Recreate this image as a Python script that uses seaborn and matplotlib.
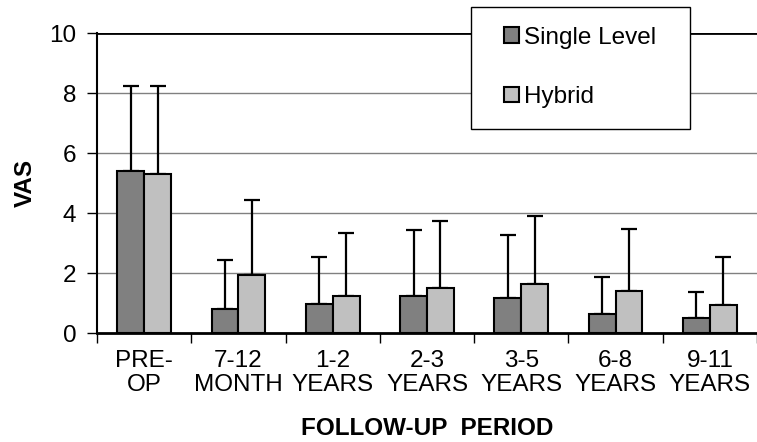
import numpy as np
import pandas as pd
import matplotlib
matplotlib.use('Agg')
import matplotlib.pyplot as plt
from matplotlib.patches import Rectangle
import seaborn as sns

periods = ['PRE-\nOP', '7-12\nMONTH', '1-2\nYEARS', '2-3\nYEARS',
           '3-5\nYEARS', '6-8\nYEARS', '9-11\nYEARS']
single_mean = [5.40, 0.79, 0.96, 1.23, 1.16, 0.64, 0.51]
single_top = [8.25, 2.43, 2.52, 3.43, 3.26, 1.88, 1.38]
hybrid_mean = [5.29, 1.92, 1.24, 1.49, 1.62, 1.41, 0.93]
hybrid_top = [8.23, 4.42, 3.33, 3.73, 3.90, 3.48, 2.52]
groups = ['Single Level', 'Hybrid']

df = pd.DataFrame({
    'period': periods * 2,
    'vas': single_mean + hybrid_mean,
    'group': [groups[0]] * len(periods) + [groups[1]] * len(periods),
})

sns.set_style('white')
plt.rcParams['font.family'] = ['Liberation Sans', 'DejaVu Sans']
plt.rcParams.update({'text.color': 'black', 'axes.labelcolor': 'black',
                     'xtick.color': 'black', 'ytick.color': 'black'})

W, H = 757, 442
fig = plt.figure(figsize=(W / 100, H / 100), dpi=100)
ax = fig.add_axes([97 / W, 1 - 333 / H, 1 - 97 / W, 300 / H])

for v in [2, 4, 6, 8]:
    ax.axhline(v, color='#808080', lw=1, zorder=0)
ax.axhline(10, color='black', lw=2, zorder=0)

sns.barplot(data=df, x='period', y='vas', hue='group',
            palette=['#808080', '#C0C0C0'], edgecolor='black', linewidth=1.5,
            width=0.57, gap=0, errorbar=None, ax=ax, zorder=2)

# upper error bars at each bar centre
tops = [single_top, hybrid_top]
means = [single_mean, hybrid_mean]
bar_conts = list(ax.containers)
for i, cont in enumerate(bar_conts):
    xs = [p.get_x() + p.get_width() / 2 for p in cont.patches]
    err = np.array(tops[i]) - np.array(means[i])
    ax.errorbar(xs, means[i], yerr=[np.zeros(len(err)), err], fmt='none',
                ecolor='black', elinewidth=1.6, capsize=5.5, capthick=1.6, zorder=1)

ax.set_ylim(0, 10)
ax.set_xlim(-0.5, 6.5)
ax.set_yticks([0, 2, 4, 6, 8, 10])
ax.set_xticks(np.arange(-0.5, 7, 1), minor=True)
ax.tick_params(axis='y', which='major', direction='out', length=7, width=1,
               left=True, labelsize=17.5, pad=8, colors='black')
ax.tick_params(axis='x', which='major', length=0, labelsize=17.5, pad=12, colors='black')
ax.tick_params(axis='x', which='minor', direction='out', length=7, width=1, bottom=True)
for lab in ax.get_xticklabels():
    lab.set_linespacing(1.12)

for s in ['top', 'right']:
    ax.spines[s].set_visible(False)
ax.spines['left'].set_color('black')
ax.spines['left'].set_linewidth(1.5)
ax.spines['bottom'].set_color('black')
ax.spines['bottom'].set_linewidth(2)

ax.set_xlabel('FOLLOW-UP  PERIOD', fontsize=17.5, fontweight='bold', labelpad=15)
ax.set_ylabel('VAS', fontsize=17.5, fontweight='bold', labelpad=9)

# legend box
fig.patches.append(Rectangle((471 / W, 1 - 129 / H), 219 / W, 122 / H,
                             transform=fig.transFigure, facecolor='white',
                             edgecolor='black', lw=1, zorder=3))
handles, labels = ax.get_legend_handles_labels()
ax.get_legend().remove()
fig.legend(handles, labels, loc='center', bbox_to_anchor=(580 / W, 1 - 67.5 / H),
           fontsize=17.5, frameon=False, handlelength=0.6, handleheight=0.6,
           handletextpad=0.2, labelspacing=1.55, borderpad=0, borderaxespad=0).set_zorder(4)

fig.savefig('out.png', dpi=100)
